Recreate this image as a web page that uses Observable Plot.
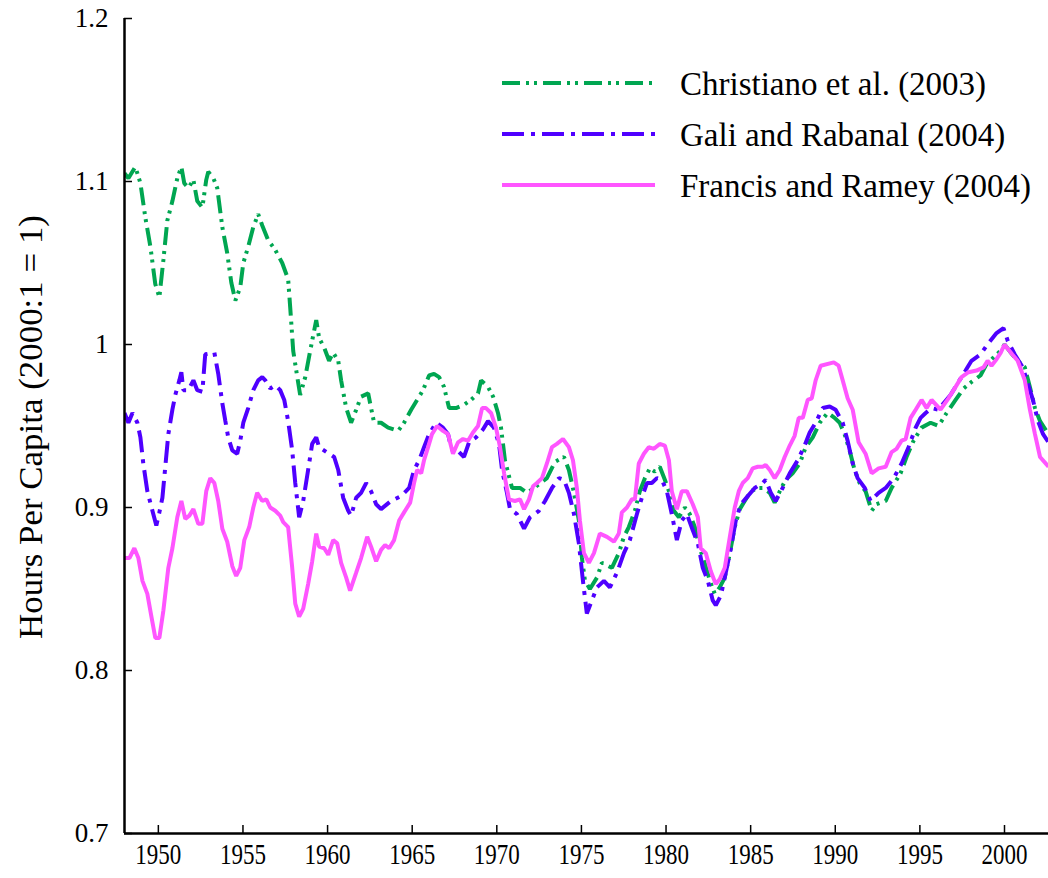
<!DOCTYPE html>
<html>
<head>
<meta charset="utf-8">
<script src="https://cdn.jsdelivr.net/npm/d3@7"></script>
<script src="https://cdn.jsdelivr.net/npm/@observablehq/plot@0.6"></script>
<style>
  html, body { margin: 0; padding: 0; background: #fff; }
  #chart { width: 1048px; height: 878px; }
</style>
</head>
<body>
<div id="chart"></div>
<script>
// ---- data (year, hours per capita, 2000:1 = 1) ----
const seriesNames = ["Christiano et al. (2003)", "Gali and Rabanal (2004)", "Francis and Ramey (2004)"];
const seriesColors = ["#00a651", "#4f00ff", "#ff55ff"];
const xTicks = [1950, 1955, 1960, 1965, 1970, 1975, 1980, 1985, 1990, 1995, 2000];
const yTicks = [0.7, 0.8, 0.9, 1, 1.1, 1.2];
const xDomain = [1948, 2002.6];
const yDomain = [0.7, 1.2];

const christiano = [
[1948.0,1.105],[1948.23,1.102],[1948.64,1.109],[1948.94,1.099],[1949.23,1.078],[1949.53,1.060],[1949.82,1.037],[1950.06,1.029],
[1950.30,1.052],[1950.53,1.076],[1950.83,1.088],[1951.12,1.102],[1951.36,1.109],[1951.53,1.099],[1951.77,1.096],[1952.07,1.101],
[1952.30,1.088],[1952.60,1.084],[1952.83,1.101],[1952.95,1.106],[1953.25,1.102],[1953.48,1.096],[1953.78,1.072],[1954.07,1.056],
[1954.31,1.038],[1954.55,1.027],[1954.84,1.035],[1955.02,1.050],[1955.31,1.060],[1955.61,1.072],[1955.90,1.080],[1956.14,1.073],
[1956.49,1.064],[1956.91,1.058],[1957.32,1.050],[1957.67,1.040],[1957.79,1.023],[1957.97,0.996],[1958.21,0.980],[1958.38,0.969],
[1958.68,0.980],[1958.97,0.996],[1959.33,1.015],[1959.50,1.004],[1959.80,0.998],[1960.09,0.990],[1960.33,0.995],[1960.63,0.990],
[1960.80,0.978],[1961.10,0.961],[1961.39,0.952],[1961.69,0.960],[1961.98,0.968],[1962.40,0.970],[1962.57,0.961],[1962.75,0.952],
[1963.16,0.952],[1963.58,0.949],[1964.17,0.947],[1964.52,0.952],[1964.94,0.960],[1965.35,0.967],[1965.64,0.972],[1966.00,0.981],
[1966.29,0.982],[1966.59,0.980],[1966.88,0.974],[1967.18,0.961],[1967.59,0.961],[1968.06,0.963],[1968.48,0.966],[1968.89,0.970],
[1969.07,0.978],[1969.48,0.974],[1969.78,0.968],[1970.07,0.958],[1970.25,0.949],[1970.48,0.929],[1970.90,0.912],[1971.37,0.912],
[1971.78,0.909],[1972.20,0.912],[1972.96,0.918],[1973.44,0.928],[1973.97,0.931],[1974.26,0.923],[1974.56,0.909],[1974.85,0.892],
[1975.03,0.869],[1975.21,0.855],[1975.50,0.850],[1975.92,0.857],[1976.21,0.866],[1976.80,0.863],[1977.21,0.872],[1977.51,0.882],
[1977.80,0.888],[1978.16,0.898],[1978.45,0.910],[1978.75,0.918],[1979.04,0.924],[1979.34,0.922],[1979.63,0.925],[1979.93,0.917],
[1980.17,0.910],[1980.46,0.898],[1980.76,0.894],[1981.11,0.900],[1981.40,0.896],[1981.70,0.888],[1981.99,0.875],[1982.29,0.866],
[1982.59,0.855],[1982.88,0.847],[1983.17,0.851],[1983.47,0.857],[1983.77,0.872],[1984.06,0.888],[1984.36,0.899],[1984.65,0.904],
[1985.01,0.910],[1985.42,0.912],[1985.71,0.912],[1986.13,0.909],[1986.42,0.903],[1986.72,0.910],[1987.07,0.917],[1987.48,0.921],
[1987.90,0.927],[1988.25,0.937],[1988.67,0.943],[1989.08,0.952],[1989.55,0.958],[1989.96,0.955],[1990.26,0.952],[1990.55,0.945],
[1990.85,0.935],[1991.14,0.923],[1991.44,0.915],[1991.79,0.910],[1992.15,0.898],[1992.44,0.902],[1992.98,0.904],[1993.33,0.912],
[1993.86,0.921],[1994.21,0.931],[1994.63,0.941],[1995.10,0.949],[1995.63,0.952],[1996.10,0.950],[1996.58,0.958],[1997.11,0.966],
[1997.58,0.973],[1998.05,0.977],[1998.58,0.981],[1998.94,0.988],[1999.35,0.992],[1999.75,0.996],[2000.0,1.000],[2000.45,0.994],
[2000.78,0.990],[2001.2,0.986],[2001.5,0.974],[2001.8,0.961],[2002.1,0.953],[2002.6,0.945]
];

const gali = [
[1948.0,0.958],[1948.23,0.952],[1948.47,0.958],[1948.76,0.952],[1948.94,0.943],[1949.11,0.927],[1949.35,0.910],[1949.65,0.898],
[1949.88,0.889],[1950.06,0.897],[1950.24,0.906],[1950.41,0.925],[1950.59,0.945],[1950.83,0.960],[1951.00,0.969],[1951.24,0.978],
[1951.36,0.983],[1951.48,0.972],[1951.77,0.972],[1952.07,0.978],[1952.30,0.972],[1952.60,0.971],[1952.77,0.994],[1953.31,0.995],
[1953.54,0.982],[1953.78,0.964],[1953.96,0.953],[1954.13,0.943],[1954.37,0.935],[1954.66,0.933],[1954.84,0.941],[1955.02,0.952],
[1955.31,0.961],[1955.61,0.972],[1955.90,0.978],[1956.14,0.980],[1956.32,0.978],[1956.61,0.973],[1956.91,0.975],[1957.20,0.972],
[1957.44,0.966],[1957.67,0.953],[1957.91,0.935],[1958.09,0.915],[1958.32,0.894],[1958.56,0.904],[1958.85,0.923],[1959.09,0.939],
[1959.33,0.943],[1959.50,0.937],[1960.09,0.933],[1960.39,0.931],[1960.63,0.923],[1960.92,0.906],[1961.22,0.898],[1961.39,0.895],
[1961.69,0.906],[1961.98,0.909],[1962.28,0.915],[1962.57,0.910],[1962.87,0.902],[1963.16,0.899],[1963.75,0.904],[1964.34,0.907],
[1964.82,0.912],[1965.11,0.923],[1965.41,0.929],[1965.70,0.937],[1966.00,0.945],[1966.41,0.952],[1966.82,0.949],[1967.12,0.945],
[1967.30,0.937],[1967.47,0.933],[1967.77,0.934],[1968.06,0.931],[1968.36,0.940],[1968.77,0.943],[1969.19,0.948],[1969.48,0.953],
[1969.83,0.949],[1970.13,0.939],[1970.31,0.923],[1970.60,0.909],[1970.78,0.899],[1971.19,0.896],[1971.61,0.887],[1971.96,0.894],
[1972.49,0.898],[1972.85,0.904],[1973.26,0.912],[1973.67,0.918],[1973.97,0.917],[1974.26,0.909],[1974.56,0.896],[1974.85,0.878],
[1975.09,0.855],[1975.32,0.835],[1975.62,0.843],[1975.92,0.851],[1976.33,0.855],[1976.68,0.851],[1977.10,0.860],[1977.51,0.872],
[1977.86,0.880],[1978.28,0.896],[1978.57,0.906],[1978.87,0.915],[1979.16,0.915],[1979.46,0.918],[1979.75,0.917],[1980.05,0.910],
[1980.34,0.896],[1980.64,0.880],[1980.93,0.892],[1981.23,0.896],[1981.58,0.886],[1981.88,0.878],[1982.17,0.863],[1982.47,0.855],
[1982.76,0.843],[1982.94,0.840],[1983.24,0.846],[1983.53,0.860],[1983.83,0.875],[1984.12,0.892],[1984.42,0.902],[1984.83,0.907],
[1985.24,0.912],[1985.71,0.915],[1985.89,0.917],[1986.19,0.909],[1986.48,0.904],[1986.89,0.912],[1987.31,0.921],[1987.78,0.929],
[1988.19,0.938],[1988.49,0.946],[1988.84,0.952],[1989.26,0.961],[1989.67,0.962],[1990.02,0.960],[1990.44,0.952],[1990.73,0.941],
[1991.03,0.927],[1991.32,0.918],[1991.74,0.912],[1992.09,0.904],[1992.56,0.909],[1992.98,0.912],[1993.45,0.918],[1993.92,0.927],
[1994.33,0.937],[1994.75,0.949],[1995.04,0.955],[1995.34,0.958],[1995.69,0.961],[1996.10,0.960],[1996.40,0.964],[1996.81,0.969],
[1997.28,0.977],[1997.70,0.984],[1998.05,0.990],[1998.58,0.994],[1999.06,1.001],[1999.53,1.007],[1999.94,1.010],[2000.20,1.002],
[2000.60,0.994],[2001.08,0.986],[2001.38,0.976],[2001.68,0.966],[2001.98,0.953],[2002.28,0.945],[2002.6,0.940]
];

const francis = [
[1948.0,0.869],[1948.29,0.869],[1948.58,0.875],[1948.82,0.869],[1949.06,0.855],[1949.35,0.847],[1949.59,0.833],[1949.82,0.820],
[1950.06,0.820],[1950.30,0.837],[1950.59,0.863],[1950.83,0.875],[1951.12,0.894],[1951.36,0.904],[1951.59,0.893],[1951.83,0.895],
[1952.07,0.899],[1952.36,0.890],[1952.60,0.890],[1952.83,0.910],[1953.07,0.918],[1953.31,0.915],[1953.54,0.904],[1953.78,0.887],
[1954.07,0.879],[1954.37,0.864],[1954.60,0.858],[1954.84,0.863],[1955.08,0.880],[1955.37,0.888],[1955.61,0.900],[1955.84,0.909],
[1956.14,0.904],[1956.38,0.905],[1956.61,0.900],[1956.91,0.898],[1957.20,0.895],[1957.38,0.891],[1957.67,0.888],[1957.91,0.863],
[1958.09,0.841],[1958.32,0.833],[1958.56,0.838],[1958.85,0.853],[1959.09,0.867],[1959.33,0.884],[1959.50,0.876],[1959.80,0.875],
[1960.04,0.871],[1960.33,0.880],[1960.57,0.878],[1960.80,0.866],[1961.10,0.857],[1961.33,0.849],[1961.69,0.860],[1961.98,0.869],
[1962.34,0.882],[1962.57,0.876],[1962.87,0.867],[1963.16,0.874],[1963.40,0.877],[1963.64,0.875],[1963.93,0.880],[1964.23,0.892],
[1964.52,0.897],[1964.88,0.903],[1965.11,0.915],[1965.29,0.923],[1965.53,0.921],[1965.70,0.929],[1965.94,0.937],[1966.17,0.945],
[1966.47,0.950],[1966.82,0.947],[1967.12,0.945],[1967.41,0.933],[1967.71,0.940],[1968.00,0.942],[1968.30,0.941],[1968.59,0.946],
[1968.89,0.950],[1969.13,0.961],[1969.36,0.961],[1969.66,0.958],[1969.95,0.949],[1970.19,0.937],[1970.43,0.921],[1970.72,0.905],
[1971.07,0.904],[1971.37,0.905],[1971.61,0.899],[1971.90,0.905],[1972.14,0.913],[1972.37,0.915],[1972.67,0.918],[1972.96,0.927],
[1973.26,0.937],[1973.55,0.939],[1973.91,0.942],[1974.26,0.937],[1974.50,0.929],[1974.73,0.912],[1974.91,0.892],[1975.15,0.872],
[1975.44,0.866],[1975.74,0.872],[1976.09,0.884],[1976.51,0.882],[1976.92,0.879],[1977.21,0.884],[1977.39,0.897],[1977.69,0.900],
[1977.98,0.905],[1978.16,0.905],[1978.39,0.927],[1978.69,0.933],[1978.98,0.937],[1979.28,0.936],[1979.63,0.939],[1979.93,0.938],
[1980.17,0.929],[1980.34,0.910],[1980.64,0.899],[1980.93,0.910],[1981.23,0.910],[1981.58,0.902],[1981.88,0.894],[1982.05,0.875],
[1982.35,0.872],[1982.64,0.861],[1982.94,0.853],[1983.17,0.856],[1983.47,0.863],[1983.77,0.882],[1984.06,0.900],[1984.30,0.910],
[1984.53,0.915],[1984.83,0.918],[1985.12,0.924],[1985.42,0.925],[1985.71,0.925],[1985.89,0.926],[1986.13,0.923],[1986.42,0.918],
[1986.72,0.923],[1987.01,0.931],[1987.31,0.938],[1987.60,0.944],[1987.84,0.955],[1988.08,0.955],[1988.37,0.966],[1988.61,0.967],
[1988.84,0.978],[1989.14,0.987],[1989.91,0.989],[1990.20,0.987],[1990.44,0.978],[1990.73,0.967],[1991.03,0.960],[1991.38,0.940],
[1991.79,0.933],[1992.15,0.921],[1992.56,0.924],[1992.98,0.925],[1993.33,0.934],[1993.62,0.936],[1993.92,0.941],[1994.16,0.942],
[1994.45,0.955],[1994.75,0.960],[1995.10,0.966],[1995.40,0.961],[1995.69,0.966],[1996.22,0.960],[1996.69,0.967],[1997.11,0.974],
[1997.46,0.980],[1997.87,0.983],[1998.35,0.984],[1998.76,0.986],[1999.00,0.990],[1999.23,0.987],[1999.53,0.991],[1999.78,0.995],
[2000.0,1.000],[2000.45,0.994],[2000.78,0.990],[2001.2,0.978],[2001.5,0.960],[2001.8,0.945],[2002.1,0.931],[2002.6,0.925]
];

const dashes = ["18,6,3,5,3,6", "22,7,4,7", null];
const seriesData = [christiano, gali, francis];

const fmtY = d => String(+d.toFixed(1));
const font = "'Liberation Serif', 'Times New Roman', serif";

const lineMarks = seriesData.map((data, i) =>
  Plot.line(data, {
    x: d => d[0], y: d => d[1],
    stroke: seriesColors[i], strokeWidth: 4,
    strokeDasharray: dashes[i] || undefined,
    strokeLinejoin: "miter", strokeLinecap: "butt",
    clip: true
  })
);

const chart = Plot.plot({
  width: 1048, height: 878,
  marginLeft: 124, marginRight: 0, marginTop: 18, marginBottom: 45,
  style: { fontFamily: font, fontSize: "24px", color: "#000", background: "#fff", overflow: "visible" },
  x: { domain: xDomain, label: null },
  y: { domain: yDomain, label: null },
  marks: [
    lineMarks[0], lineMarks[1], lineMarks[2],
    Plot.axisX({ ticks: xTicks, tickFormat: d => String(d), tickSize: -8, tickPadding: 18, strokeWidth: 1.5, label: null }),
    Plot.axisY({ ticks: yTicks, tickFormat: fmtY, tickSize: -8, tickPadding: 24, strokeWidth: 1.5, label: null }),
    Plot.ruleX([xDomain[0]], { strokeWidth: 2.5 }),
    Plot.ruleY([yDomain[0]], { strokeWidth: 2.5 })
  ]
});

document.getElementById("chart").appendChild(chart);

const svg = d3.select(chart);

// tick label typography: x labels tall and condensed, y labels plain
svg.selectAll("g").each(function () {
  const lab = this.getAttribute("aria-label");
  if (lab === "x-axis tick label") {
    d3.select(this).attr("font-size", 29).style("font-size", "29px");
    d3.select(this).selectAll("text")
      .attr("font-size", 29).style("font-size", "29px")
      .attr("textLength", 46).attr("lengthAdjust", "spacingAndGlyphs");
  } else if (lab === "y-axis tick label") {
    d3.select(this).attr("font-size", 27).style("font-size", "27px");
    d3.select(this).selectAll("text").attr("font-size", 27).style("font-size", "27px");
  }
});

// y-axis title
svg.append("text")
  .attr("transform", "translate(30,427) rotate(-90)")
  .attr("text-anchor", "middle")
  .attr("dy", "0.35em")
  .attr("font-family", font)
  .attr("font-size", 34)
  .attr("textLength", 424)
  .attr("lengthAdjust", "spacingAndGlyphs")
  .attr("fill", "#000")
  .text("Hours Per Capita (2000:1 = 1)");

// legend
const lg = svg.append("g").attr("class", "legend");
seriesNames.forEach((name, i) => {
  const y = 83 + i * 51;
  lg.append("line")
    .attr("x1", 502).attr("x2", 655).attr("y1", y).attr("y2", y)
    .attr("stroke", seriesColors[i]).attr("stroke-width", 4)
    .attr("stroke-dasharray", dashes[i] || null);
  lg.append("text")
    .attr("x", 680).attr("y", y).attr("dy", "0.35em")
    .attr("text-anchor", "start")
    .attr("font-family", font).attr("font-size", 33).attr("fill", "#000")
    .text(name);
});
</script>
</body>
</html>
